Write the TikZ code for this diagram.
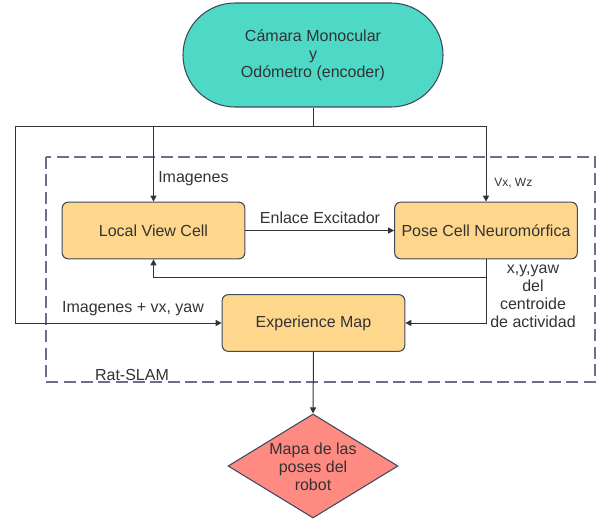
\documentclass[tikz,border=0pt]{standalone}
\usepackage{fontspec}
\setmainfont{Liberation Sans}
\usetikzlibrary{arrows.meta,shapes.geometric}
\definecolor{tealfill}{HTML}{4ED8C6}
\definecolor{boxfill}{HTML}{FED68C}
\definecolor{diafill}{HTML}{FF8A82}
\definecolor{edge}{HTML}{3E4A5E}
\definecolor{ink}{HTML}{333333}
\definecolor{frame}{HTML}{6A7088}
\tikzset{
  base/.style={font=\fontsize{12}{13.5}\selectfont, text=ink},
  block/.style={base, draw=edge, line width=0.8pt, fill=boxfill, rounded corners=4.5pt,
    minimum width=137pt, minimum height=42.5pt, inner sep=0pt},
  wire/.style={draw=ink, line width=0.75pt},
  arr/.style={wire, -{Triangle[length=4.5pt,width=4.5pt]}},
  lbl/.style={base, inner sep=0pt},
}
\begin{document}
\begin{tikzpicture}[x=0.75pt, y=-0.75pt]
\useasboundingbox (0,0) rectangle (600,521);

% Rat-SLAM frame
\draw[frame, line width=1.1pt, dash pattern=on 9pt off 4pt] (46,157) rectangle (595,382);
\node[lbl, anchor=center] (rat) at (132,375) {Rat-SLAM};

% sensors
\node[base, draw=edge, line width=0.8pt, fill=tealfill, rectangle, rounded corners=39pt,
  minimum width=195pt, minimum height=78pt, inner sep=0pt, align=center]
  (src) at (313,55) {Cámara Monocular\\y\\Odómetro (encoder)};

% processing blocks
\node[block] (lvc) at (153.5,230.5) {Local View Cell};
\node[block] (pcn) at (486,230.5) {Pose Cell Neuromórfica};
\node[block] (em)  at (313.5,323) {Experience Map};

% output
\node[draw=edge, line width=0.8pt, fill=diafill, diamond, minimum width=127.5pt,
  minimum height=78pt, inner sep=0pt] (map) at (313,466) {};
\node[lbl, align=center] (maptxt) at (313,467) {Mapa de las\\poses del\\robot};

% distribution bus
\coordinate (busL) at (15,126);
\coordinate (busR) at (486,126);
\coordinate (fb) at (486,277);
\draw[wire] (src.south) -- (src.south |- busL);
\draw[wire] (busL) -- (busR);
\draw[arr] (lvc.north |- busL) -- (lvc.north);
\draw[arr] (busR) -- (pcn.north);
\draw[arr] (busL) |- (em.west);

% internal links
\draw[arr] (lvc.east) -- (pcn.west);
\draw[arr] (pcn.south) |- (em.east);
\draw[arr] (fb) -| (lvc.south);
\draw[arr] (em.south) -- (map.north);

% link labels
\node[lbl, anchor=west] (limg) at (158,179) {Imagenes};
\node[lbl, anchor=west, font=\fontsize{9}{10}\selectfont] (lvw) at (494,183) {Vx, Wz};
\node[lbl] (lexc) at (320,218) {Enlace Excitador};
\node[lbl] (limgv) at (133,309) {Imagenes + vx, yaw};
\node[lbl, align=center] (lpose) at (533,296) {x,y,yaw\\del\\centroide\\de actividad};
\end{tikzpicture}
\end{document}
